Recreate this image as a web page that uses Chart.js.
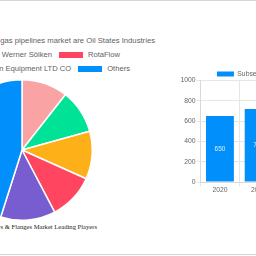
<!DOCTYPE html>
<html><head><meta charset="utf-8">
<script src="https://cdn.jsdelivr.net/npm/chart.js@4.4.0/dist/chart.umd.min.js"></script>
<style>
html,body{margin:0;padding:0;width:256px;height:256px;overflow:hidden;background:#fff;}
body{position:relative;font-family:"Liberation Sans",Arial,sans-serif;}
.abs{position:absolute;}
#topline{left:0;top:0;width:256px;height:1px;background:#d6d6d6;}
#botline{left:0;top:254px;width:256px;height:1px;background:#d6d6d6;}
#title{right:101px;top:36px;white-space:nowrap;font-size:7.7px;line-height:10px;color:#5f5f5f;}
.legrow{display:flex;align-items:center;white-space:nowrap;font-size:7.6px;line-height:10px;color:#5f5f5f;}
#row1{right:136px;top:49.5px;}
#row2{right:126px;top:63.7px;}
.item{display:flex;align-items:center;margin-left:7px;}
.item:first-child{margin-left:0;}
.sw{width:24px;height:6px;margin-right:5px;flex:none;}
#pieWrap{left:-49px;top:79px;width:142px;height:142px;}
#barWrap{left:170px;top:68px;width:108px;height:128px;}
#caption{right:159px;top:222px;font-family:"Liberation Serif","Times New Roman",serif;font-size:6.6px;line-height:10px;color:#222;white-space:nowrap;}
</style>
</head>
<body>
<div id="topline" class="abs"></div>
<div id="title" class="abs">Top companies in the subsea gas pipelines market are Oil States Industries</div>
<div id="row1" class="abs legrow"></div>
<div id="row2" class="abs legrow"></div>
<div id="pieWrap" class="abs"><canvas id="pie"></canvas></div>
<div id="barWrap" class="abs"><canvas id="bar"></canvas></div>
<div id="caption" class="abs">Subsea Connectors &amp; Flanges Market Leading Players</div>
<div id="botline" class="abs"></div>
<script>
// ---- data ----
const pieLabels = ['Oil States Industries', 'Hydratight', 'Werner Sölken', 'RotaFlow', 'Hebei Huaxin Equipment LTD CO', 'Others'];
const pieValues = [10.6, 10.1, 11.0, 10.6, 12.6, 45.1];
const pieColors = ['#f9a3a4', '#00e396', '#feb019', '#ff4560', '#775dd0', '#008ffb'];

const barYears = ['2020', '2021'];
const barValues = [650, 720];
const barSeriesName = 'Subsea Size';
const barColor = '#008ffb';
const yTickMax = 1000;
const yTickStep = 100;

// ---- html legend for the pie ----
const rowSplit = 4;
pieLabels.forEach((lab, i) => {
  const item = document.createElement('div');
  item.className = 'item';
  const sw = document.createElement('span');
  sw.className = 'sw';
  sw.style.background = pieColors[i];
  const tx = document.createElement('span');
  tx.textContent = lab;
  item.appendChild(sw); item.appendChild(tx);
  document.getElementById(i < rowSplit ? 'row1' : 'row2').appendChild(item);
});

Chart.defaults.font.family = '"Liberation Sans", Arial, sans-serif';
Chart.defaults.color = '#666';

new Chart(document.getElementById('pie'), {
  type: 'pie',
  data: { labels: pieLabels, datasets: [{ data: pieValues, backgroundColor: pieColors, borderColor: '#fff', borderWidth: 1.5 }] },
  options: {
    responsive: true, maintainAspectRatio: false, animation: false,
    layout: { padding: 0 },
    plugins: { legend: { display: false }, tooltip: { enabled: false } }
  }
});

const legendHeight = {
  id: 'legendHeight',
  beforeInit(chart) {
    const lg = chart.legend;
    if (!lg) return;
    const orig = lg.fit;
    lg.fit = function () { orig.call(this); this.height = 12.6; };
  }
};

const barValueLabels = {
  id: 'barValueLabels',
  afterDatasetsDraw(chart) {
    const ctx = chart.ctx;
    chart.data.datasets.forEach((ds, di) => {
      chart.getDatasetMeta(di).data.forEach((bar, i) => {
        const p = bar.getProps(['x', 'y', 'base'], true);
        ctx.save();
        ctx.fillStyle = 'rgba(255,255,255,0.85)';
        ctx.font = '6.5px "Liberation Sans", Arial, sans-serif';
        ctx.textAlign = 'center';
        ctx.textBaseline = 'middle';
        ctx.fillText(String(ds.data[i]), p.x, (p.y + p.base) / 2);
        ctx.restore();
      });
    });
  }
};

new Chart(document.getElementById('bar'), {
  type: 'bar',
  data: { labels: barYears, datasets: [{ label: barSeriesName, data: barValues, backgroundColor: barColor, borderWidth: 0 }] },
  options: {
    responsive: true, maintainAspectRatio: false, animation: false,
    layout: { padding: 0 },
    plugins: {
      legend: { position: 'top', align: 'end', labels: { boxWidth: 17, boxHeight: 5, padding: 2.5, font: { size: 6.8 }, color: '#666' } },
      tooltip: { enabled: false }
    },
    scales: {
      x: {
        grid: { color: '#e6e6e6', tickLength: 4 },
        border: { color: '#d9d9d9' },
        ticks: { font: { size: 6.8 }, color: '#666', padding: 0, maxRotation: 0 },
        afterFit(s) { s.height = 14; }
      },
      y: {
        min: 0, max: yTickMax,
        grid: { color: '#e6e6e6', tickLength: 4 },
        border: { color: '#d9d9d9' },
        ticks: { stepSize: yTickStep, font: { size: 6.8 }, color: '#666', padding: 1, callback: v => String(v) },
        afterFit(s) { s.width = 30.6; }
      }
    }
  },
  plugins: [legendHeight, barValueLabels]
});
</script>
</body></html>
